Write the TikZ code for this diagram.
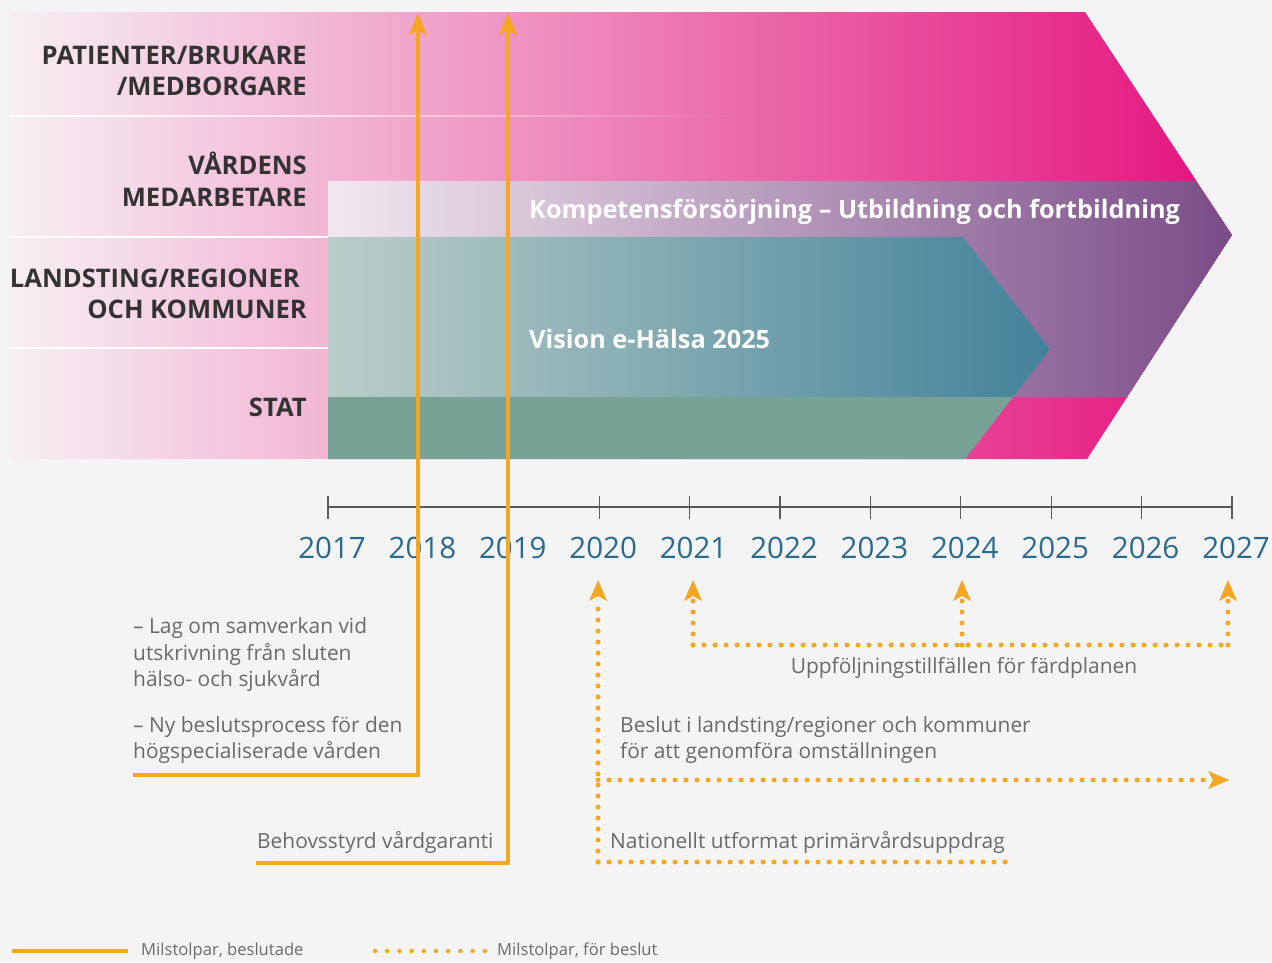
\documentclass[tikz,border=0pt]{standalone}
\usepackage{fontspec}
\setmainfont{Open Sans}
\usetikzlibrary{arrows.meta,fadings}
\definecolor{bg}{HTML}{F4F4F4}
\definecolor{pinkL}{HTML}{F7EFF3}
\definecolor{pinkM}{HTML}{EE9EC4}
\definecolor{pinkR}{HTML}{E4117C}
\definecolor{purL}{HTML}{F3E8EF}
\definecolor{purM}{HTML}{B390B3}
\definecolor{purR}{HTML}{7A4C88}
\definecolor{tealL}{HTML}{BBCEC8}
\definecolor{tealM}{HTML}{86A9B2}
\definecolor{tealR}{HTML}{42829A}
\definecolor{stat}{HTML}{78A295}
\definecolor{orng}{HTML}{F5A623}
\definecolor{yearc}{HTML}{2B6A8C}
\definecolor{txtg}{HTML}{6A6A6A}
\definecolor{lbl}{HTML}{333333}
\definecolor{axisc}{HTML}{5A5A5A}
\tikzfading[name=fadeR, left color=transparent!0, right color=transparent!100]
\tikzset{
  rowlbl/.style={anchor=east, align=right, text=lbl, font=\fontsize{25.6}{31.5}\selectfont\bfseries, inner sep=0pt},
  yearlbl/.style={text=yearc, font=\fontsize{29.5}{34}\selectfont, inner sep=0pt},
  bodytxt/.style={anchor=west, align=left, text=txtg, font=\fontsize{20.9}{26.5}\selectfont, inner sep=0pt},
  bandtxt/.style={anchor=west, text=white, font=\fontsize{25.3}{30}\selectfont\bfseries, inner sep=0pt},
  legtxt/.style={anchor=west, text=txtg, font=\fontsize{16.6}{19}\selectfont, inner sep=0pt},
  solidms/.style={draw=orng, line width=4.5pt},
  dotms/.style={draw=orng, line width=5pt, line cap=round, dash pattern=on 0pt off 11pt},
  uptip/.style={-{Stealth[length=22pt,width=18pt,inset=5pt]}},
  tick/.style={draw=axisc, line width=1.3pt}
}
\begin{document}
\begin{tikzpicture}[x=1pt,y=-1pt]
\useasboundingbox (0,0) rectangle (1272,962);
\fill[bg] (0,0) rectangle (1272,962);
% big pink chevron
\shade[left color=pinkL, middle color=pinkM, right color=pinkR]
  (10,12) -- (1085,12) -- (1232,235) -- (1087,459) -- (10,459) -- cycle;
% purple band
\shade[left color=purL, middle color=purM, right color=purR]
  (328,181) -- (1196,181) -- (1232,235) -- (1127,397) -- (328,397) -- cycle;
% teal chevron
\shade[left color=tealL, middle color=tealM, right color=tealR]
  (328,237) -- (963,237) -- (1050,349) -- (1013,397) -- (328,397) -- cycle;
% stat bar
\fill[stat] (328,397) -- (1013,397) -- (965,459) -- (328,459) -- cycle;
% separator lines
\fill[white, path fading=fadeR] (10,114.8) rectangle (740,117.2);
\fill[white] (10,235.8) rectangle (328,238.2);
\fill[white] (10,346.8) rectangle (328,349.2);
% row labels
\node[rowlbl] (r1) at (307,71) {PATIENTER/BRUKARE\\/MEDBORGARE};
\node[rowlbl] (r2) at (307,179) {VÅRDENS\\MEDARBETARE};
\node[rowlbl] (r3) at (307,294) {LANDSTING/REGIONER\hspace*{7pt}\\OCH KOMMUNER};
\node[rowlbl] (r4) at (307,407) {STAT};
% band texts
\node[bandtxt] (kt) at (529,212) {Kompetensförsörjning – Utbildning och fortbildning};
\node[bandtxt] (vt) at (529,339) {Vision e-Hälsa 2025};
% axis
\coordinate (a0) at (328,507);
\coordinate (a1) at (1232,507);
\draw[tick] (a0) -- (a1);
\foreach \i/\yr in {0/2017,1/2018,2/2019,3/2020,4/2021,5/2022,6/2023,7/2024,8/2025,9/2026,10/2027}{
  \coordinate (t\i) at ({328+90.4*\i},507);
  \draw[tick] ([yshift=-12pt]t\i) -- ([yshift=11pt]t\i);
  \node[yearlbl] (y\i) at ({332+90.4*\i},548) {\yr};
}
% decided milestones (solid)
\coordinate (s1a) at (133,775);
\coordinate (s1b) at (418,775);
\coordinate (s1c) at (418,13);
\draw[solidms, uptip] (s1a) -- (s1b) -- (s1c);
\coordinate (s2a) at (256,863);
\coordinate (s2b) at (508,863);
\coordinate (s2c) at (508,13);
\draw[solidms, uptip] (s2a) -- (s2b) -- (s2c);
% left texts
\node[bodytxt] (l1) at (133,655) {– Lag om samverkan vid\\utskrivning från sluten\\hälso- och sjukvård};
\node[bodytxt] (l2) at (133,740) {– Ny beslutsprocess för den\\högspecialiserade vården};
\node[bodytxt] (l3) at (257,842) {Behovsstyrd vårdgaranti};
% follow-ups (dotted)
\coordinate (u1) at (693,645);
\coordinate (u2) at (962,645);
\coordinate (u3) at (1228,645);
\coordinate (u1t) at (693,580);
\coordinate (u2t) at (962,580);
\coordinate (u3t) at (1228,580);
\draw[dotms] (u1) -- (u3);
\draw[dotms] (u1) -- ([yshift=-20pt]u1t);
\draw[dotms] (u2) -- ([yshift=-20pt]u2t);
\draw[dotms] (u3) -- ([yshift=-20pt]u3t);
\fill[orng] (u1t) -- ++(-9,21) -- ++(9,-5) -- ++(9,5) -- cycle;
\fill[orng] (u2t) -- ++(-9,21) -- ++(9,-5) -- ++(9,5) -- cycle;
\fill[orng] (u3t) -- ++(-9,21) -- ++(9,-5) -- ++(9,5) -- cycle;
\node[bodytxt, anchor=center] (ut) at (964,668) {Uppföljningstillfällen för färdplanen};
% 2020 decisions (dotted)
\coordinate (p0) at (598,862);
\coordinate (p1) at (598,780);
\coordinate (p1t) at (598,580);
\coordinate (p2) at (1229,780);
\coordinate (p3) at (1012,862);
\draw[dotms] (p0) -- ([yshift=-20pt]p1t);
\fill[orng] (p1t) -- ++(-9,21) -- ++(9,-5) -- ++(9,5) -- cycle;
\draw[dotms] (p1) -- ([xshift=-20pt]p2);
\fill[orng] (p2) -- ++(-21,-9) -- ++(5,9) -- ++(-5,9) -- cycle;
\draw[dotms] (p0) -- (p3);
\node[bodytxt] (b1) at (620,740) {Beslut i landsting/regioner och kommuner\\för att genomföra omställningen};
\node[bodytxt] (b2) at (610,842) {Nationellt utformat primärvårdsuppdrag};
% legend
\coordinate (g1a) at (12,951);
\coordinate (g1b) at (128,951);
\draw[solidms] (g1a) -- (g1b);
\node[legtxt] (g1t) at (141,951) {Milstolpar, beslutade};
\coordinate (g2a) at (375,951);
\coordinate (g2b) at (485,951);
\draw[dotms, line width=4.5pt, dash pattern=on 0pt off 12.2pt] (g2a) -- (g2b);
\node[legtxt] (g2t) at (497,951) {Milstolpar, för beslut};
\end{tikzpicture}
\end{document}
